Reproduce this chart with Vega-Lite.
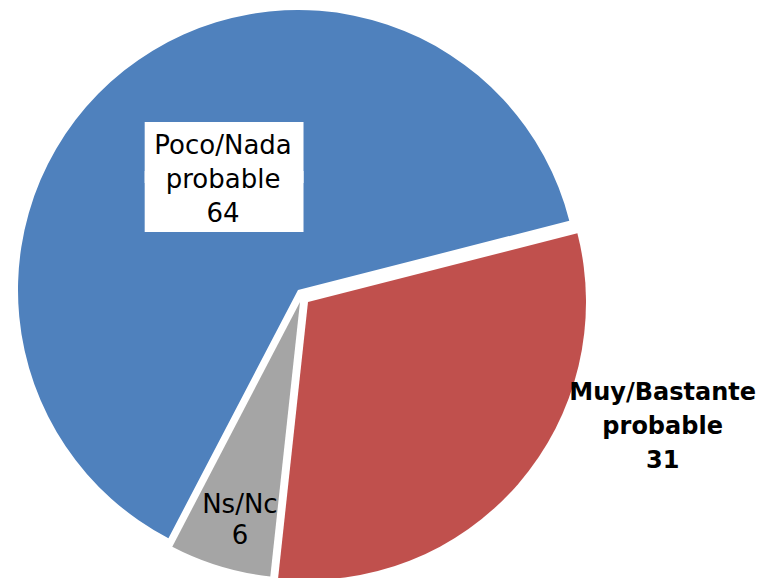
{
  "$schema": "https://vega.github.io/schema/vega-lite/v6.json",
  "width": 596,
  "height": 580,
  "autosize": {"type": "none"},
  "padding": {"left": 0, "top": 0, "right": 166, "bottom": 0},
  "background": "white",
  "view": {"stroke": null},
  "data": {
    "values": [
      {"cat": "Poco/Nada probable", "value": 64},
      {"cat": "Muy/Bastante probable", "value": 31},
      {"cat": "Ns/Nc", "value": 6}
    ]
  },
  "transform": [{"calculate": "datum.cat + ' ' + datum.value", "as": "label"}],
  "encoding": {
    "theta": {"field": "value", "type": "quantitative", "stack": true, "scale": {"range": [1.321, 7.604]}},
    "color": {
      "field": "cat",
      "type": "nominal",
      "scale": {
        "domain": ["Muy/Bastante probable", "Ns/Nc", "Poco/Nada probable"],
        "range": ["#C0504D", "#A5A5A5", "#4F81BD"]
      },
      "legend": null
    },
    "order": {"field": "cat", "sort": "ascending"}
  },
  "layer": [
    {
      "mark": {"type": "arc", "outerRadius": 280},
      "encoding": {"opacity": {"condition": {"test": "datum.cat === 'Poco/Nada probable'", "value": 1}, "value": 0}}
    },
    {
      "mark": {"type": "arc", "outerRadius": 278, "xOffset": 10, "yOffset": 12},
      "encoding": {"opacity": {"condition": {"test": "datum.cat === 'Muy/Bastante probable'", "value": 1}, "value": 0}}
    },
    {
      "mark": {"type": "arc", "outerRadius": 276, "xOffset": 2, "yOffset": 12},
      "encoding": {"opacity": {"condition": {"test": "datum.cat === 'Ns/Nc'", "value": 1}, "value": 0}}
    },
    {
      "mark": {"type": "text", "radius": 140, "dx": 13, "dy": -25, "fill": "white", "font": "DejaVu Sans", "fontSize": 51.3, "lineHeight": 49, "lineBreak": " ", "baseline": "middle", "align": "center"},
      "encoding": {
        "text": {"value": "████ ████"},
        "opacity": {"condition": {"test": "datum.cat === 'Poco/Nada probable'", "value": 1}, "value": 0}
      }
    },
    {
      "mark": {"type": "text", "radius": 140, "dx": 12, "dy": -34, "fill": "black", "font": "DejaVu Sans", "fontSize": 26, "lineHeight": 34, "lineBreak": " ", "baseline": "middle", "align": "center"},
      "encoding": {
        "text": {"field": "label"},
        "opacity": {"condition": {"test": "datum.cat === 'Poco/Nada probable'", "value": 1}, "value": 0}
      }
    },
    {
      "mark": {"type": "text", "radius": 300, "dx": 138, "dy": -94, "fill": "black", "font": "DejaVu Sans", "fontWeight": "bold", "fontSize": 24, "lineHeight": 34, "lineBreak": " ", "baseline": "middle", "align": "center"},
      "encoding": {
        "text": {"field": "label"},
        "opacity": {"condition": {"test": "datum.cat === 'Muy/Bastante probable'", "value": 1}, "value": 0}
      }
    },
    {
      "mark": {"type": "text", "radius": 245, "dx": 13, "dy": -19, "fill": "black", "font": "DejaVu Sans", "fontSize": 26, "lineHeight": 31, "lineBreak": " ", "baseline": "middle", "align": "center"},
      "encoding": {
        "text": {"field": "label"},
        "opacity": {"condition": {"test": "datum.cat === 'Ns/Nc'", "value": 1}, "value": 0}
      }
    }
  ]
}
